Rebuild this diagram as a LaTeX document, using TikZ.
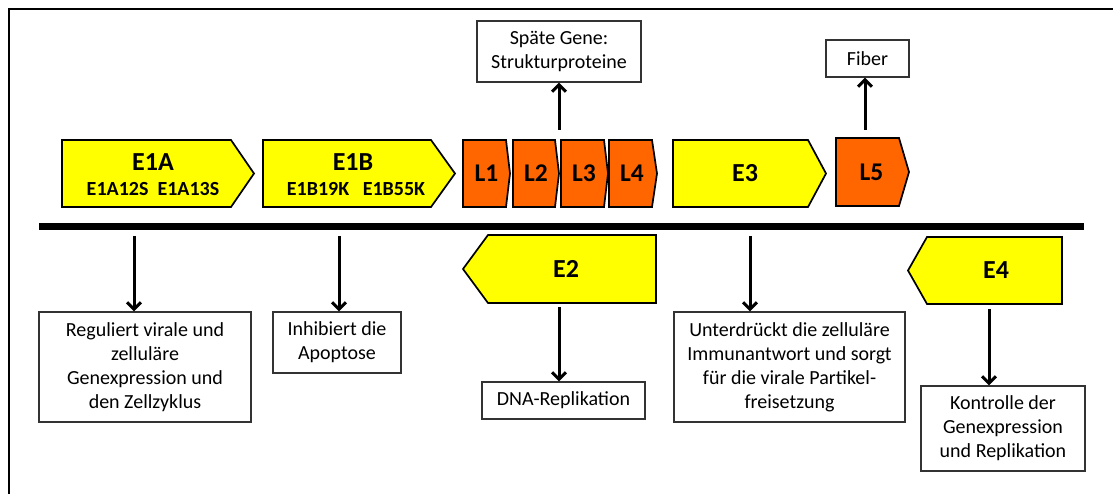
\documentclass[tikz,border=0pt]{standalone}
\usepackage{fontspec}
\setmainfont{Carlito}
\usetikzlibrary{arrows.meta}

\definecolor{earlyyellow}{HTML}{FFFF00}
\definecolor{lateorange}{HTML}{FF6600}

\begin{document}
\begin{tikzpicture}[x=1pt, y=-1pt,
            early/.style={draw=black, line width=1.7pt, fill=earlyyellow},
            late/.style={draw=black, line width=1.7pt, fill=lateorange},
            genename/.style={inner sep=0pt, font=\fontsize{26}{28}\selectfont\bfseries},
            latename/.style={inner sep=0pt, font=\fontsize{25.5}{27}\selectfont\bfseries},
            genesub/.style={inner sep=0pt, font=\fontsize{20}{22}\selectfont\bfseries},
            infobox/.style={draw=black!80, line width=1.2pt, fill=white, align=center,
                inner sep=0pt, font=\fontsize{20}{24}\selectfont},
            arr/.style={-{Straight Barb[length=7pt, width=14pt]}, line width=3pt},
            ]
            \useasboundingbox (0,0) rectangle (1113,494);

            % frame and genome
            \draw[line width=1.8pt] (9,494) -- (9,9) -- (1113,9);
            \draw[line width=7pt] (39,227) -- (1084,227);

            % early genes
            \draw[early] (62,140) -- (231,140) -- (254,173.5) -- (231,207) -- (62,207) -- cycle;
            \node[genename] (e1a) at (153,162) {E1A};
            \node[genesub] (e1asub) at (153,189) {E1A12S\ \ E1A13S};

            \draw[early] (263,140) -- (431,140) -- (455,173.5) -- (431,207) -- (263,207) -- cycle;
            \node[genename] (e1b) at (353,162) {E1B};
            \node[genesub] (e1bsub) at (356,189) {E1B19K\ \ \ E1B55K};

            \draw[early] (673,140) -- (808,140) -- (826,173.5) -- (808,207) -- (673,207) -- cycle;
            \node[genename] (e3) at (745,173) {E3};

            \draw[early] (463,269) -- (488,235) -- (656,235) -- (656,303) -- (488,303) -- cycle;
            \node[genename] (e2) at (566,269) {E2};

            \draw[early] (908,270.5) -- (927,237) -- (1062,237) -- (1062,304) -- (927,304) -- cycle;
            \node[genename] (e4) at (996,270) {E4};

            % late genes
            \draw[late] (463,140) -- (506,140) -- (510,173.5) -- (506,207) -- (463,207) -- cycle;
            \node[latename] (l1) at (486.5,173) {L1};
            \draw[late] (513,140) -- (555,140) -- (559,173.5) -- (555,207) -- (513,207) -- cycle;
            \node[latename] (l2) at (536,173) {L2};
            \draw[late] (561,140) -- (604,140) -- (608,173.5) -- (604,207) -- (561,207) -- cycle;
            \node[latename] (l3) at (584,173) {L3};
            \draw[late] (609,140) -- (652,140) -- (657,173.5) -- (652,207) -- (609,207) -- cycle;
            \node[latename] (l4) at (632,173) {L4};
            \draw[late] (836,138) -- (899,138) -- (909,172) -- (899,206) -- (836,206) -- cycle;
            \node[latename] (l5) at (871.5,172) {L5};

            % functions
            \node[infobox, minimum width=212pt, minimum height=110pt] (regul) at (145,367)
                {Reguliert virale und\\zelluläre\\Genexpression und\\den Zellzyklus};
            \node[infobox, minimum width=128pt, minimum height=61pt] (apopt) at (337,342.5)
                {Inhibiert die\\Apoptose};
            \node[infobox, minimum width=163pt, minimum height=37pt] (dnarep) at (563.5,400.5)
                {DNA-Replikation};
            \node[infobox, minimum width=231pt, minimum height=110pt] (immun) at (789.5,367)
                {Unterdrückt die zelluläre\\Immunantwort und sorgt\\für die virale Partikel-\\freisetzung};
            \node[infobox, minimum width=164pt, minimum height=85pt] (kontr) at (1003,428.5)
                {Kontrolle der\\Genexpression\\und Replikation};
            \node[infobox, minimum width=164pt, minimum height=61pt] (struct) at (559,51.5)
                {Späte Gene:\\Strukturproteine};
            \node[infobox, minimum width=83pt, minimum height=37pt] (fiber) at (867.5,58.5)
                {Fiber};

            \coordinate (e1a-out) at (134,236);
            \coordinate (e1b-out) at (339,236);
            \coordinate (e2-out) at (559,307);
            \coordinate (e3-out) at (750,236);
            \coordinate (e4-out) at (989,309);
            \coordinate (l-out) at (559,130);
            \coordinate (l5-out) at (865,130);

            \draw[arr] (e1a-out) -- (e1a-out |- regul.north);
            \draw[arr] (e1b-out) -- (e1b-out |- apopt.north);
            \draw[arr] (e2-out) -- (e2-out |- dnarep.north);
            \draw[arr] (e3-out) -- (e3-out |- immun.north);
            \draw[arr] (e4-out) -- (e4-out |- kontr.north);
            \draw[arr] (l-out) -- (l-out |- struct.south);
            \draw[arr] (l5-out) -- (l5-out |- fiber.south);
        \end{tikzpicture}
\end{document}
